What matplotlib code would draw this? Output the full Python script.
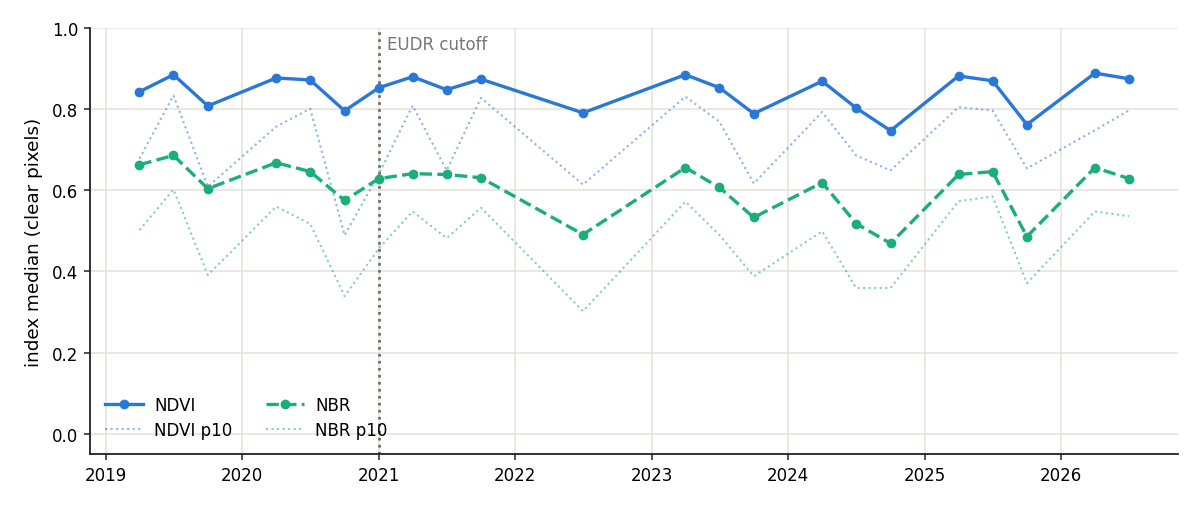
import matplotlib
matplotlib.use("Agg")
import matplotlib.pyplot as plt
import matplotlib.dates as mdates
import pandas as pd

plt.rcParams["font.family"] = ["DejaVu Sans"]

dates = ["2019-04-01", "2019-07-01", "2019-10-01", "2020-04-01", "2020-07-01", "2020-10-01",
         "2021-01-01", "2021-04-01", "2021-07-01", "2021-10-01", "2022-07-01", "2023-04-01",
         "2023-07-01", "2023-10-01", "2024-04-01", "2024-07-01", "2024-10-01", "2025-04-01",
         "2025-07-01", "2025-10-01", "2026-04-01", "2026-07-01"]
ndvi = [0.843, 0.885, 0.808, 0.877, 0.872, 0.796, 0.853, 0.880, 0.848, 0.874, 0.791, 0.885,
        0.853, 0.789, 0.869, 0.803, 0.747, 0.882, 0.870, 0.762, 0.889, 0.875]
nbr = [0.663, 0.686, 0.604, 0.668, 0.646, 0.575, 0.629, 0.641, 0.639, 0.631, 0.491, 0.656,
       0.607, 0.533, 0.619, 0.518, 0.469, 0.639, 0.646, 0.486, 0.656, 0.629]
ndvi_p10 = [0.678, 0.834, 0.609, 0.757, 0.801, 0.489, 0.641, 0.809, 0.649, 0.828, 0.614, 0.831,
            0.769, 0.617, 0.793, 0.686, 0.649, 0.805, 0.797, 0.654, 0.748, 0.797]
nbr_p10 = [0.502, 0.602, 0.391, 0.560, 0.517, 0.339, 0.457, 0.548, 0.482, 0.557, 0.302, 0.572,
           0.490, 0.388, 0.499, 0.359, 0.359, 0.573, 0.585, 0.371, 0.548, 0.536]
cutoff = "2021-01-01"

x = pd.to_datetime(dates)
BLUE = "#2a78d6"
GREEN = "#1aae78"

fig = plt.figure(figsize=(12, 5.1), dpi=100)
ax = fig.add_axes([0.075, 0.108, 0.907, 0.835])

ax.plot(x, ndvi, color=BLUE, lw=2.4, marker="o", ms=6, label="NDVI", zorder=4)
ax.plot(x, ndvi_p10, color=BLUE, lw=1.5, ls=":", alpha=0.55, label="NDVI p10", zorder=3)
ax.plot(x, nbr, color=GREEN, lw=2.4, ls=(0, (3.7, 1.6)), marker="o", ms=6, label="NBR", zorder=4)
ax.plot(x, nbr_p10, color=GREEN, lw=1.5, ls=":", alpha=0.55, label="NBR p10", zorder=3)

cx = pd.Timestamp(cutoff)
ax.axvline(cx, color="#666666", ls=":", lw=1.9, zorder=2)
ax.text(cx + pd.Timedelta(days=21), 0.961, "EUDR cutoff", color="#777777", fontsize=12,
        va="center", ha="left")

ax.set_ylim(-0.05, 1.0)
ax.set_yticks([0.0, 0.2, 0.4, 0.6, 0.8, 1.0])
ax.yaxis.set_major_formatter(matplotlib.ticker.FormatStrFormatter("%.1f"))
ax.xaxis.set_major_locator(mdates.YearLocator())
ax.xaxis.set_major_formatter(mdates.DateFormatter("%Y"))
ax.set_ylabel("index median (clear pixels)", fontsize=13.2, labelpad=6)
ax.tick_params(labelsize=12, length=4.5, width=1.1, color="#222222", pad=4)
ax.grid(True, color="#e4e1d9", lw=1.1)
ax.set_axisbelow(True)
for s in ["top", "right"]:
    ax.spines[s].set_visible(False)
for s in ["left", "bottom"]:
    ax.spines[s].set_color("#222222")
    ax.spines[s].set_linewidth(1.3)

ax.legend(loc="lower left", ncol=2, frameon=False, fontsize=12, columnspacing=2.0,
          handlelength=2.3, handletextpad=0.65, borderaxespad=0.5, labelspacing=0.4)

fig.savefig("out.png", dpi=100)
